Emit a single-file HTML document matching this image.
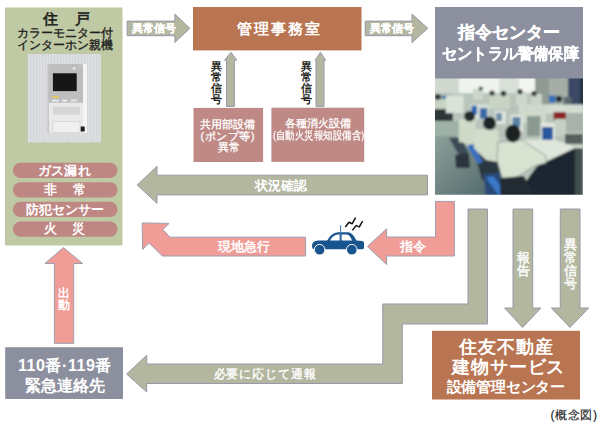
<!DOCTYPE html>
<html><head><meta charset="utf-8">
<style>
html,body{margin:0;padding:0;background:#fff;}
body{width:600px;height:428px;position:relative;overflow:hidden;font-family:"Liberation Sans",sans-serif;}
svg{position:absolute;left:0;top:0;}
.t{position:absolute;white-space:nowrap;line-height:1;font-weight:bold;color:#fff;}
.v{position:absolute;line-height:1;font-weight:bold;color:#fff;width:1em;text-align:center;}
</style></head><body>
<svg width="600" height="428" viewBox="0 0 600 428">
  <!-- left green box -->
  <rect x="5" y="7.5" width="117.5" height="238" fill="#bfc9a3"/>
  <!-- intercom photo -->
  <defs>
    <filter id="bl2" x="-5%" y="-5%" width="110%" height="110%"><feGaussianBlur stdDeviation="0.5"/></filter>
    <pattern id="wall" width="3" height="6" patternUnits="userSpaceOnUse">
      <rect width="3" height="6" fill="#dcdde0"/><rect width="1" height="6" fill="#cfd0d4"/>
    </pattern>
  </defs>
  <g filter="url(#bl2)">
  <rect x="27.8" y="54" width="73.2" height="88.3" fill="url(#wall)"/>
  <rect x="27.8" y="54" width="73.2" height="88.3" fill="#dcdde0" opacity="0.5"/>
  <rect x="47.5" y="64" width="39.5" height="69" rx="1.5" fill="#e9e9e9"/>
  <rect x="83" y="64" width="4" height="69" fill="#f4f4f4"/>
  <rect x="47.5" y="64" width="1.2" height="69" fill="#b8b8b8"/>
  <path d="M48.5,102.7 L48.5,66 Q48.5,64 50.5,64 L81,64 Q83,64 83,66 L83,102.7 Z" fill="#bebebe"/>
  <rect x="52.9" y="73.3" width="23.8" height="17.8" fill="#141414"/>
  <circle cx="74.2" cy="68.5" r="2.2" fill="#dcdcdc" stroke="#a0a0a0" stroke-width="0.4"/>
  <rect x="52" y="95.8" width="7" height="2" fill="#e6c860"/>
  <rect x="52" y="99.8" width="7" height="1.6" fill="#f2f2f2"/>
  <rect x="62" y="99.8" width="5" height="1.6" fill="#f2f2f2"/>
  <rect x="70.5" y="99" width="7" height="3" rx="1.5" fill="#dadada"/>
  <rect x="53" y="106.5" width="27" height="8" fill="#d6d6d6"/>
  <rect x="53" y="121.5" width="27" height="11" fill="#f0f0f0" stroke="#cacaca" stroke-width="0.5"/>
  <rect x="80.7" y="126.5" width="4" height="5" fill="#1e1e1e"/>
  </g>
  <!-- pills -->
  <rect x="12.9" y="162.7" width="104.7" height="15.3" rx="7.6" fill="#bf8783"/>
  <rect x="12.9" y="182.3" width="104.7" height="15.3" rx="7.6" fill="#bf8783"/>
  <rect x="12.9" y="201.8" width="104.7" height="15.3" rx="7.6" fill="#bf8783"/>
  <rect x="12.9" y="221.4" width="104.7" height="15.3" rx="7.6" fill="#bf8783"/>
  <!-- arrow 1 -->
  <polygon points="127.1,21.1 174.9,21.1 174.9,14.1 189.8,28.3 174.9,42.4 174.9,35.7 127.1,35.7" fill="#b3b7a0" stroke="#9799a8" stroke-width="1"/>
  <!-- brown box -->
  <rect x="193" y="7" width="168.5" height="43.4" fill="#b97551"/>
  <!-- arrow 2 -->
  <polygon points="365.2,21.1 412,21.1 412,14.1 427.8,28.3 412,42.6 412,35.7 365.2,35.7" fill="#b3b7a0" stroke="#9799a8" stroke-width="1"/>
  <!-- center box -->
  <rect x="435" y="7" width="148" height="72" fill="#8c8f9e"/>
  <!-- photo -->
  <defs>
    <clipPath id="pc"><rect x="435" y="78.5" width="148" height="116.2"/></clipPath>
    <filter id="bl" x="-5%" y="-5%" width="110%" height="110%"><feGaussianBlur stdDeviation="0.9"/></filter>
    <linearGradient id="fl" x1="0" y1="0" x2="1" y2="1">
      <stop offset="0" stop-color="#8fa39c"/><stop offset="1" stop-color="#51686a"/>
    </linearGradient>
  </defs>
  <g clip-path="url(#pc)">
  <g filter="url(#bl)">
    <rect x="430" y="74" width="158" height="125" fill="#b8c4bb"/>
    <!-- top band -->
    <rect x="430" y="74" width="29" height="20" fill="#cfd9cf"/>
    <rect x="459" y="74" width="40" height="19" fill="#eff3ee"/>
    <rect x="499" y="74" width="20" height="20" fill="#d9e0d7"/>
    <rect x="519" y="74" width="16" height="20" fill="#f2f5f0"/>
    <rect x="535" y="74" width="14" height="31" fill="#8f9a92"/>
    <rect x="549" y="74" width="19" height="31" fill="#a4ada6"/>
    <rect x="568" y="74" width="12" height="31" fill="#3a4a66"/>
    <rect x="580" y="74" width="8" height="31" fill="#27303c"/>
    <!-- back row -->
    <rect x="430" y="93" width="105" height="13" fill="#b9c5bb"/>
    <rect x="436" y="95" width="16" height="8" fill="#8fa3a8"/>
    <rect x="442" y="96" width="9" height="6" fill="#4a7aa0"/>
    <rect x="473" y="89" width="10" height="11" fill="#ccd6cb"/>
    <circle cx="480.7" cy="88.5" r="2" fill="#2a3030"/>
    <rect x="489" y="95" width="21" height="14" fill="#c8d4c4"/>
    <circle cx="492" cy="93" r="2.6" fill="#283030"/>
    <circle cx="503.5" cy="93.5" r="2.8" fill="#283030"/>
    <rect x="516" y="92" width="11" height="13" fill="#cdd7cb"/>
    <circle cx="520" cy="91.6" r="2.6" fill="#283030"/>
    <rect x="531" y="94" width="11" height="11" fill="#c9d3c7"/>
    <circle cx="534" cy="93.6" r="2.6" fill="#283030"/>
    <rect x="549" y="95.6" width="6.5" height="7" fill="#3070b8"/>
    <circle cx="559" cy="99" r="3.2" fill="#283030"/>
    <rect x="563.6" y="97" width="8" height="8" fill="#5d6a70"/>
    <!-- desk row right -->
    <rect x="519" y="104.5" width="64" height="9" fill="#d4ddd2"/>
    <rect x="553.5" y="112" width="12.5" height="8" fill="#8a2222"/>
    <rect x="566" y="113" width="17" height="19" fill="#a8b2aa"/>
    <rect x="555" y="119" width="11" height="17" fill="#c6d0c4"/>
    <rect x="521.6" y="105" width="24.4" height="18" fill="#cfd9cc"/>
    <rect x="527" y="116" width="13.6" height="20" fill="#8a9a92"/>
    <!-- left person & desks -->
    <rect x="430" y="99" width="16" height="12" fill="#c6d2c4"/>
    <circle cx="437.7" cy="97" r="3" fill="#2a3232"/>
    <rect x="430" y="109" width="23" height="12" fill="#2d3838"/>
    <rect x="446" y="95.6" width="17.5" height="17.4" fill="#dbe3d9"/>
    <rect x="430" y="121" width="32" height="15" fill="#9fb2a8"/>
    <!-- front row monitors -->
    <rect x="470.5" y="104.5" width="18" height="15" fill="#d9e1d7"/>
    <rect x="471.6" y="105.8" width="5.4" height="8.8" fill="#2a60b0"/>
    <rect x="479.8" y="108" width="7.4" height="10.7" fill="#3a6aa8"/>
    <rect x="494.7" y="111" width="11" height="13" fill="#dfe6dc"/>
    <rect x="496" y="113" width="6" height="8" fill="#6f90a8"/>
    <rect x="510.7" y="114.6" width="12.3" height="17.4" fill="#e2e8e0"/>
    <rect x="512.5" y="117" width="8" height="10" fill="#5a84a8"/>
    <rect x="540.6" y="122.8" width="14.4" height="22" fill="#e0e7de"/>
    <rect x="542" y="127" width="10.8" height="14" fill="#2a58a0"/>
    <rect x="565" y="134" width="18" height="10" fill="#55605e"/>
    <!-- floor -->
    <polygon points="430,136 455,136 470,150 485,172 490,199 430,199" fill="url(#fl)"/>
    <!-- desk surface -->
    <polygon points="516.6,139.7 555,140 575,146.8 583,146 583,149 537,167 520,160" fill="#dfe6dc"/>
    <!-- dark desk base -->
    <polygon points="537,166 575,148 575,199 520,199 524,184" fill="#1d2830"/>
    <rect x="575" y="148" width="8" height="51" fill="#40504e"/>
    <!-- chairs -->
    <polygon points="449,138 462,137 469,155 460,157" fill="#3d4c58"/>
    <polygon points="455,155 469,153 470,168 456,168" fill="#2a353c"/>
    <polygon points="474,152 498,158 503,178 482,180" fill="#2c3840"/>
    <polygon points="467,146 473,144 483,162 478,164" fill="#3a70c0"/>
    <polygon points="483.5,174 508,172 512,199 486,199" fill="#2a4a78"/>
    <polygon points="486,178 493,176 508,195 500,197" fill="#3a78c8"/>
    <!-- person 1 -->
    <polygon points="459,119 475,119 477,142 470,144 459,142" fill="#d0dac8"/>
    <ellipse cx="469.5" cy="116.2" rx="5.5" ry="5.2" fill="#232a2a"/>
    <!-- person 2 -->
    <polygon points="474,129 498,130 500,150 498,162 486,160 474,148" fill="#d3ddcb"/>
    <ellipse cx="489.5" cy="123.3" rx="6.5" ry="6.8" fill="#1f2626"/>
    <!-- person 3 -->
    <polygon points="498,142 522,140 546,156 546,163 534,166 522,174 512,180 502,178 497,160" fill="#d8e2d0" stroke="#7d8a86" stroke-width="0.8"/>
    <ellipse cx="513" cy="133.5" rx="7.8" ry="9" fill="#1c2222"/>
    <polygon points="500,178 524,176 536,199 500,199" fill="#222a30"/>
  </g>
  </g>
  <!-- up arrows -->
  <polygon points="231,52.3 236.8,60.2 234.4,60.2 234.4,106.4 226.5,106.4 226.5,60.2 224.5,60.2" fill="#b3b7a0" stroke="#9799a8" stroke-width="1"/>
  <polygon points="320.4,52.3 325.7,60.2 324,60.2 324,106.4 316,106.4 316,60.2 315.2,60.2" fill="#b3b7a0" stroke="#9799a8" stroke-width="1"/>
  <!-- pink boxes -->
  <rect x="193.5" y="107.9" width="69.6" height="54.1" fill="#bf8a86"/>
  <rect x="271.4" y="107.7" width="92.8" height="54.2" fill="#bf8a86"/>
  <!-- 状況確認 arrow -->
  <polygon points="137.2,185 157,166.3 157,175.2 427.5,175.2 427.5,194.9 157,194.9 157,203.3" fill="#b3b7a0" stroke="#9799a8" stroke-width="1"/>
  <!-- 現地急行 arrow -->
  <polygon points="142.2,222.9 169.1,223.4 162.8,229.6 170,237.2 305.6,237.2 305.6,256 162.4,256 149.2,243 142.6,249.4" fill="#f09c97" stroke="#9c9eb2" stroke-width="1"/>
  <!-- 指令 L arrow -->
  <polygon points="435.5,201.4 454.4,201.4 454.4,256 386.6,256 386.6,264.5 367.4,246.5 386.6,228.8 386.6,237 435.5,237" fill="#f09c97" stroke="#9c9eb2" stroke-width="1"/>
  <!-- gray L arrow -->
  <polygon points="468,209 487.5,209 487.5,324 402.3,324 402.3,383.5 146.7,383.5 146.7,392 126.7,374 146.7,355.3 146.7,364 382.7,364 382.7,304 468,304" fill="#b3b7a0" stroke="#9799a8" stroke-width="1"/>
  <!-- down arrows -->
  <polygon points="513,209 532.7,209 532.7,308 541,308 522.6,327.5 504.6,308 513,308" fill="#b3b7a0" stroke="#9799a8" stroke-width="1"/>
  <polygon points="560.3,209 580,209 580,308 588.6,308 570,327.5 551.4,308 560.3,308" fill="#b3b7a0" stroke="#9799a8" stroke-width="1"/>
  <!-- brown box 2 -->
  <rect x="432" y="330.8" width="148" height="68.7" fill="#b97551"/>
  <!-- 110 box -->
  <rect x="5.2" y="347.2" width="117.8" height="51.8" fill="#8c8f9e"/>
  <!-- 出動 arrow -->
  <polygon points="63.4,247.6 82.7,263.5 73.7,263.5 73.7,343.3 54.4,343.3 54.4,263.5 44.9,263.5" fill="#f09c97" stroke="#9c9eb2" stroke-width="1"/>
  <!-- car -->
  <g fill="#18558f">
    <path d="M312,246 Q312,241 318,240.6 L327.2,240.6 Q331,233 338,232.2 L348.3,232.2 Q353,233 356.4,240.6 L362.5,241 Q364,241.5 364,243 L364,248 Q364,249.2 362,249.2 L314,249.2 Q312,249 312,246 Z"/>
    <circle cx="319.6" cy="249.7" r="5.3" stroke="#fff" stroke-width="1"/>
    <circle cx="351.8" cy="249.7" r="5.3" stroke="#fff" stroke-width="1"/>
  </g>
  <path d="M330,240.4 Q333,235 338,234.5 L339.6,234.5 L339.6,240.4 Z M341.6,240.4 L341.6,234.5 L347,234.5 Q350,235 352,240.4 Z" fill="#fff"/>
  <rect x="340.1" y="225.2" width="1" height="15" fill="#3f76b0"/>
  <path d="M345.3,227 L349,222.3 L352.2,223.7 L355.6,217.6" fill="none" stroke="#111" stroke-width="1.5" stroke-linejoin="round"/>
  <path d="M352.4,230.4 L356,225.6 L359.3,226.9 L362.6,221.2" fill="none" stroke="#111" stroke-width="1.5" stroke-linejoin="round"/>
</svg>

<!-- texts -->
<div class="t" style="left:43px;top:10.5px;font-size:15px;letter-spacing:0.8px;color:#1e1e1e;font-weight:normal;-webkit-text-stroke:0.6px #1e1e1e;">住　戸</div>
<div class="t" style="left:17px;top:27px;font-size:12px;color:#1e1e1e;font-weight:normal;-webkit-text-stroke:0.35px #1e1e1e;">カラーモニター付</div>
<div class="t" style="left:17px;top:39px;font-size:12px;color:#1e1e1e;font-weight:normal;-webkit-text-stroke:0.35px #1e1e1e;">インターホン親機</div>

<div class="t" style="left:38px;top:164.5px;font-size:12.5px;letter-spacing:0.2px;">ガス漏れ</div>
<div class="t" style="left:44px;top:184px;font-size:12.5px;letter-spacing:1.7px;">非　常</div>
<div class="t" style="left:25.5px;top:203.5px;font-size:12.5px;letter-spacing:0.1px;">防犯センサー</div>
<div class="t" style="left:44px;top:223px;font-size:12.5px;letter-spacing:0.9px;">火　災</div>

<div class="t" style="left:132px;top:22.8px;font-size:11px;-webkit-text-stroke:0.3px #fff;">異常信号</div>
<div class="t" style="left:236.5px;top:21px;font-size:15px;letter-spacing:2px;">管理事務室</div>
<div class="t" style="left:369.5px;top:22.8px;font-size:11px;-webkit-text-stroke:0.3px #fff;">異常信号</div>

<div class="t" style="left:458px;top:23.5px;font-size:17px;-webkit-text-stroke:0.3px #fff;">指令センター</div>
<div class="t" style="left:441.5px;top:46px;font-size:16px;transform:scaleX(0.95);transform-origin:0 0;-webkit-text-stroke:0.3px #fff;">セントラル警備保障</div>

<div class="v" style="left:211px;top:61px;font-size:11px;color:#231f20;">異常信号</div>
<div class="v" style="left:301px;top:61px;font-size:11px;color:#231f20;">異常信号</div>

<div class="t" style="left:200.3px;top:119px;font-size:10.5px;letter-spacing:0px;font-weight:normal;-webkit-text-stroke:0.3px #fff;">共用部設備</div>
<div class="t" style="left:200.5px;top:130.5px;font-size:10.5px;font-weight:normal;letter-spacing:0.6px;-webkit-text-stroke:0.3px #fff;">(ポンプ等)</div>
<div class="t" style="left:217.5px;top:142.3px;font-size:10.5px;letter-spacing:0.5px;font-weight:normal;-webkit-text-stroke:0.3px #fff;">異常</div>
<div class="t" style="left:285.3px;top:118.3px;font-size:10.5px;letter-spacing:0px;font-weight:normal;-webkit-text-stroke:0.3px #fff;">各種消火設備</div>
<div class="t" style="left:272.5px;top:130px;font-size:10.5px;font-weight:normal;transform:scaleX(0.86);transform-origin:0 0;-webkit-text-stroke:0.25px #fff;">(自動火災報知設備含)</div>

<div class="t" style="left:254.7px;top:178.7px;font-size:13px;">状況確認</div>
<div class="t" style="left:218px;top:240.3px;font-size:13px;">現地急行</div>
<div class="t" style="left:400px;top:240.3px;font-size:13px;">指令</div>

<div class="v" style="left:516.5px;top:251px;font-size:13px;font-weight:normal;-webkit-text-stroke:0.4px #fff;">報告</div>
<div class="v" style="left:564px;top:238px;font-size:13px;font-weight:normal;-webkit-text-stroke:0.4px #fff;">異常信号</div>
<div class="v" style="left:57.8px;top:287.3px;font-size:12px;">出動</div>

<div class="t" style="left:18px;top:357.5px;font-size:16px;letter-spacing:0.55px;">110番·119番</div>
<div class="t" style="left:25px;top:378px;font-size:16px;">緊急連絡先</div>

<div class="t" style="left:213.5px;top:368px;font-size:12px;font-weight:normal;letter-spacing:0.9px;-webkit-text-stroke:0.35px #fff;">必要に応じて通報</div>

<div class="t" style="left:459px;top:338px;font-size:18px;letter-spacing:1px;">住友不動産</div>
<div class="t" style="left:452px;top:357.5px;font-size:18px;letter-spacing:0.9px;">建物サービス</div>
<div class="t" style="left:446.5px;top:378.5px;font-size:15px;letter-spacing:-0.2px;">設備管理センター</div>
<div class="t" style="left:550.5px;top:409px;font-size:12px;color:#222;font-weight:normal;letter-spacing:0.6px;-webkit-text-stroke:0.15px #222;">(概念図)</div>
</body></html>
